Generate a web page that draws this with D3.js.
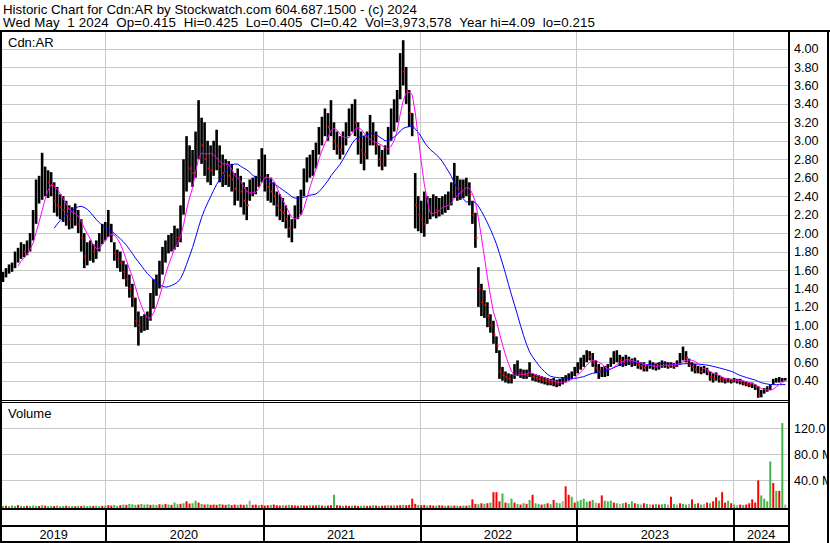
<!DOCTYPE html>
<html><head><meta charset="utf-8">
<script src="https://cdn.jsdelivr.net/npm/d3@7"></script>
<style>
html,body{margin:0;padding:0;background:#fff;}
svg{display:block;font-family:"Liberation Sans",Arial,sans-serif;}
text{white-space:pre;}
</style></head><body>
<svg id="c" width="830" height="543"></svg>
<script>
const titleLine1 = "Historic Chart for Cdn:AR by Stockwatch.com 604.687.1500 - (c) 2024";
const titleLine2 = "Wed May  1 2024  Op=0.415  Hi=0.425  Lo=0.405  Cl=0.42  Vol=3,973,578  Year hi=4.09  lo=0.215";
const symbolLabel = "Cdn:AR";
const volumeLabel = "Volume";
const firstWeek = new Date(2019, 4, 6);
const priceTicks = [0.4,0.6,0.8,1.0,1.2,1.4,1.6,1.8,2.0,2.2,2.4,2.6,2.8,3.0,3.2,3.4,3.6,3.8,4.0];
const volTicks = [40,80,120];
const years = [2019,2020,2021,2022,2023,2024];

const high = [
1.58,1.62,1.66,1.68,1.80,1.84,1.90,1.88,1.92,2.00,
2.25,2.58,2.62,2.87,2.72,2.68,2.66,2.55,2.50,2.42,
2.40,2.35,2.30,2.28,2.32,2.25,2.15,2.00,1.90,1.92,
1.88,1.92,2.00,2.10,2.12,2.25,2.10,1.90,1.82,1.80,
1.70,1.66,1.55,1.45,1.30,1.15,1.10,1.12,1.15,1.35,
1.50,1.55,1.70,1.85,1.92,1.98,2.00,2.08,2.05,2.30,
2.80,3.05,2.95,2.90,3.10,3.44,3.25,3.20,3.00,2.95,
3.00,3.12,2.95,2.85,2.80,2.78,2.75,2.65,2.70,2.62,
2.55,2.50,2.58,2.60,2.62,2.80,2.92,2.85,2.64,2.60,
2.55,2.45,2.42,2.38,2.30,2.20,2.15,2.30,2.40,2.47,
2.70,2.82,2.85,2.90,2.98,3.15,3.26,3.35,3.30,3.44,
3.20,3.10,3.05,3.10,3.20,3.35,3.40,3.45,3.20,3.10,
3.05,3.10,3.28,3.20,3.10,2.95,2.90,2.95,3.15,3.35,
3.45,3.55,3.95,4.09,3.80,3.55,3.30,2.65,2.40,2.35,
2.45,2.40,2.38,2.42,2.40,2.38,2.40,2.42,2.45,2.55,
2.76,2.62,2.58,2.58,2.60,2.55,2.35,2.22,1.63,1.45,
1.38,1.25,1.12,1.05,0.88,0.73,0.55,0.50,0.48,0.47,
0.58,0.62,0.53,0.52,0.52,0.60,0.48,0.47,0.46,0.45,
0.44,0.43,0.42,0.43,0.41,0.42,0.44,0.46,0.48,0.50,
0.55,0.60,0.65,0.68,0.73,0.72,0.70,0.62,0.58,0.55,
0.56,0.58,0.65,0.72,0.73,0.68,0.66,0.68,0.66,0.64,
0.65,0.62,0.60,0.60,0.58,0.62,0.60,0.58,0.60,0.62,
0.61,0.60,0.60,0.59,0.62,0.70,0.77,0.72,0.64,0.60,
0.58,0.56,0.55,0.56,0.54,0.50,0.48,0.49,0.46,0.44,
0.43,0.43,0.42,0.43,0.42,0.42,0.40,0.39,0.38,0.38,
0.36,0.34,0.30,0.32,0.34,0.36,0.42,0.43,0.44,0.43,0.43];

const low = [
1.47,1.52,1.56,1.58,1.62,1.68,1.72,1.74,1.76,1.80,
1.92,2.10,2.32,2.36,2.40,2.38,2.40,2.22,2.18,2.15,
2.12,2.08,2.04,2.05,2.08,2.00,1.80,1.62,1.65,1.70,
1.68,1.72,1.80,1.88,1.92,1.96,1.90,1.70,1.62,1.58,
1.50,1.42,1.30,1.20,0.98,0.78,0.92,0.94,0.95,1.05,
1.18,1.32,1.40,1.55,1.68,1.78,1.80,1.82,1.85,1.90,
2.20,2.45,2.55,2.50,2.60,2.80,2.75,2.62,2.55,2.52,
2.62,2.68,2.55,2.50,2.52,2.50,2.45,2.30,2.35,2.28,
2.20,2.14,2.35,2.40,2.42,2.50,2.55,2.45,2.35,2.33,
2.30,2.18,2.14,2.12,2.05,1.95,1.90,2.05,2.15,2.20,
2.40,2.55,2.60,2.62,2.70,2.85,2.95,3.05,3.00,3.05,
2.90,2.85,2.80,2.85,2.95,3.05,3.10,3.05,2.85,2.75,
2.68,2.80,2.95,2.95,2.85,2.72,2.68,2.72,2.85,3.00,
3.10,3.20,3.45,3.60,3.40,3.15,3.05,2.05,2.02,2.00,
1.96,2.10,2.15,2.18,2.16,2.18,2.20,2.22,2.25,2.30,
2.38,2.35,2.36,2.38,2.40,2.30,2.10,1.84,1.20,1.10,
1.08,0.98,0.92,0.80,0.70,0.42,0.40,0.38,0.37,0.37,
0.42,0.45,0.43,0.42,0.42,0.44,0.40,0.39,0.38,0.37,
0.36,0.35,0.35,0.34,0.33,0.34,0.36,0.38,0.40,0.42,
0.45,0.48,0.52,0.55,0.60,0.62,0.55,0.48,0.42,0.44,
0.44,0.45,0.55,0.58,0.60,0.56,0.55,0.56,0.57,0.55,
0.56,0.53,0.52,0.50,0.50,0.53,0.52,0.51,0.52,0.54,
0.54,0.53,0.54,0.53,0.55,0.58,0.62,0.60,0.55,0.50,
0.48,0.48,0.47,0.48,0.46,0.40,0.38,0.40,0.38,0.38,
0.37,0.38,0.37,0.38,0.37,0.36,0.35,0.34,0.33,0.32,
0.30,0.215,0.22,0.26,0.28,0.30,0.36,0.38,0.38,0.39,0.40];

const close = [
1.52,1.58,1.62,1.64,1.74,1.76,1.82,1.80,1.86,1.96,
2.15,2.45,2.50,2.55,2.58,2.55,2.52,2.35,2.30,2.28,
2.25,2.20,2.15,2.18,2.20,2.10,1.95,1.75,1.78,1.85,
1.80,1.86,1.95,2.02,2.05,2.08,1.98,1.78,1.72,1.68,
1.58,1.50,1.40,1.30,1.05,1.00,1.02,1.05,1.08,1.25,
1.40,1.45,1.62,1.75,1.82,1.88,1.92,1.98,1.95,2.20,
2.60,2.85,2.70,2.65,2.95,3.10,2.95,2.80,2.70,2.68,
2.85,2.90,2.72,2.65,2.70,2.62,2.58,2.48,2.55,2.45,
2.35,2.30,2.48,2.52,2.55,2.70,2.75,2.60,2.50,2.45,
2.40,2.30,2.25,2.22,2.15,2.05,2.05,2.20,2.30,2.40,
2.60,2.72,2.75,2.80,2.88,3.05,3.15,3.20,3.15,3.25,
3.00,2.95,2.90,3.00,3.10,3.25,3.30,3.20,3.00,2.90,
2.85,3.00,3.15,3.05,2.95,2.80,2.75,2.85,3.05,3.25,
3.30,3.45,3.80,3.75,3.55,3.30,3.15,2.30,2.20,2.15,
2.10,2.25,2.28,2.30,2.25,2.28,2.30,2.32,2.35,2.45,
2.55,2.48,2.45,2.50,2.52,2.42,2.20,1.95,1.40,1.25,
1.22,1.10,1.00,0.90,0.78,0.50,0.46,0.44,0.42,0.42,
0.50,0.52,0.48,0.47,0.46,0.50,0.44,0.43,0.42,0.41,
0.40,0.39,0.38,0.38,0.37,0.38,0.40,0.42,0.44,0.46,
0.50,0.55,0.60,0.62,0.68,0.66,0.60,0.54,0.50,0.50,
0.50,0.52,0.60,0.66,0.66,0.62,0.60,0.62,0.61,0.60,
0.60,0.57,0.56,0.54,0.55,0.58,0.56,0.55,0.57,0.58,
0.58,0.56,0.57,0.56,0.60,0.65,0.70,0.65,0.58,0.55,
0.52,0.52,0.50,0.51,0.50,0.44,0.42,0.45,0.42,0.41,
0.40,0.41,0.40,0.41,0.40,0.39,0.37,0.36,0.35,0.35,
0.33,0.25,0.26,0.29,0.31,0.34,0.40,0.40,0.41,0.42,0.42];

// volume in millions of shares (typical daily bar in each week)
const volume = [
0.8,1.2,0.5,1.5,0.8,2.0,1.0,0.6,1.2,0.8,
1.5,1.0,0.8,2.0,1.2,0.6,1.0,0.8,1.5,0.5,
0.8,1.2,0.6,1.0,0.5,1.2,0.8,1.5,0.6,1.0,
0.8,1.2,0.6,1.0,1.5,2.0,1.5,2.5,1.2,2.0,
3.0,2.5,4.0,3.5,2.5,3.0,4.0,2.8,3.5,2.5,
3.0,2.5,3.5,3.0,4.0,3.0,2.5,6.0,3.5,4.0,
5.0,8.0,4.5,5.0,9.0,6.0,4.0,3.0,3.5,2.5,
3.0,2.5,4.0,3.0,2.5,3.5,2.0,3.0,2.5,3.0,
2.5,3.0,9.0,2.5,3.0,2.0,2.5,1.5,2.0,2.5,
3.0,2.0,1.5,2.0,1.5,2.5,2.0,1.5,1.2,2.0,
1.5,1.2,2.0,1.5,1.8,2.5,1.5,1.2,1.5,2.0,
18,2.0,1.5,1.2,1.5,1.0,1.2,1.5,1.0,1.2,
1.5,1.0,1.2,2.0,1.5,1.0,1.2,1.5,2.0,1.5,
1.8,1.5,2.0,2.5,2.0,2.5,12,4.0,2.5,2.0,
2.5,1.5,2.0,1.5,1.2,2.0,1.5,1.0,1.5,1.2,
1.5,1.2,1.0,1.5,1.2,2.0,11,4.0,3.5,5.0,
4.0,5.0,6.0,22,22,8.0,20,6.0,5.0,12,
6.0,4.0,3.0,5.0,4.0,10,18,5.0,4.0,3.0,
4.0,5.0,3.5,10,6.0,5.0,8.0,31,18,15,
6.0,8.0,10,12,7.0,8.0,10,6.0,5.0,17,
9.0,8.0,9.0,6.0,5.0,4.0,5.0,6.0,4.0,8.0,
5.0,4.0,3.0,5.0,4.0,3.5,3.0,4.0,3.0,3.5,
4.0,3.0,15,4.0,3.0,5.0,4.0,3.0,4.0,11,
4.0,5.0,3.0,4.0,6.0,5.0,8.0,14,9.0,22,
6.0,9.0,5.0,3.0,2.0,3.0,2.5,3.0,5.0,11,
6.0,40,17,12,8.0,69,36,24,24,128,3.0];

// g = up, r = down, n = unchanged
const volDir = (
"grgggrggrg"+"ggrgrggrgg"+"grggrgrggg"+"rggrgrrggr"+"grgggrgggr"+
"ggrgrgrggr"+"grrggrgrgr"+"rrgrrgrrgr"+"rgnrrgrrrg"+"rrrgrgrrrg"+
"rrgrrgrgrr"+"grrgrrgrrg"+"grrgrgrrgr"+"grrgrrrrgr"+"rgrrgrrgrg"+
"rgrgrgrrgr"+"grgrrrgrgg"+"rgrgrgrggr"+"grgrggnrrg"+"rggggrgnrr"+
"gggrgngrgg"+"rgnrgnrgrg"+"gnrgnrggnr"+"grgnrgrrgr"+"rgrgnrgrrr"+
"rrggggrgrgn").split("");

const maShortWeeks = 6, maLongWeeks = 18;

const svg = d3.select("#c");
const W = 830, H = 543;

const weeks = high.map((_, i) => d3.timeWeek.offset(firstWeek, i));
const x = d3.scaleTime()
  .domain([new Date(2020,0,1), new Date(2024,0,1)])
  .range([105.3, 733.3]);
const bx = d => x(d3.timeDay.offset(d, 2));
const y = d3.scaleLinear().domain([0.4, 4.0]).range([380.7, 48.5]);
const yv = d3.scaleLinear().domain([0, 120]).range([506.5, 428.3]);

const PL = 2, PR = 788;

svg.append("rect").attr("width", W).attr("height", H).attr("fill", "#fff");

const defs = svg.append("defs");
defs.append("clipPath").attr("id","cp").append("rect").attr("x",PL).attr("y",31.5).attr("width",PR-PL).attr("height",368.5);
defs.append("clipPath").attr("id","cv").append("rect").attr("x",PL).attr("y",403).attr("width",PR-PL).attr("height",105);
defs.append("clipPath").attr("id","cr").append("rect").attr("x",790).attr("y",31).attr("width",37).attr("height",512);

const grid = svg.append("g").attr("stroke","#c8c8c8").attr("stroke-width",1).attr("shape-rendering","crispEdges");
grid.selectAll(".hp").data(priceTicks).join("line")
  .attr("x1",PL).attr("x2",PR).attr("y1",d=>Math.round(y(d))+0.5).attr("y2",d=>Math.round(y(d))+0.5);
grid.selectAll(".hv").data(volTicks).join("line")
  .attr("x1",PL).attr("x2",PR).attr("y1",d=>Math.round(yv(d))+0.5).attr("y2",d=>Math.round(yv(d))+0.5);
const yearStarts = years.slice(1).map(yr => new Date(yr,0,1));
grid.selectAll(".vv").data(yearStarts).join("line")
  .attr("x1",d=>Math.round(x(d))+0.5).attr("x2",d=>Math.round(x(d))+0.5)
  .attr("y1",31).attr("y2",508);

// price bars
const pg = svg.append("g").attr("clip-path","url(#cp)");
pg.append("g").selectAll("rect").data(weeks).join("rect")
  .attr("x",(d)=>bx(d)-1.3).attr("width",2.6)
  .attr("y",(d,i)=>y(high[i]))
  .attr("height",(d,i)=>Math.max(1, y(low[i])-y(high[i])))
  .attr("fill","#000");
pg.append("g").selectAll("rect").data(weeks.filter((d,i)=>i>0 && close[i]<close[i-1]))
  .join("rect")
  .attr("x",d=>bx(d)).attr("width",2).attr("height",2)
  .attr("y",d=>y(close[weeks.indexOf(d)])-1)
  .attr("fill","#ff0000");

function sma(n){
  const out = [];
  for (let i = n-1; i < close.length; i++) out.push({d: weeks[i], v: d3.mean(close.slice(i-n+1, i+1))});
  return out;
}
const line = d3.line().x(p=>bx(p.d)).y(p=>y(p.v));
pg.append("path").attr("d", line(sma(maLongWeeks))).attr("fill","none").attr("stroke","#0000ff").attr("stroke-width",1);
pg.append("path").attr("d", line(sma(maShortWeeks))).attr("fill","none").attr("stroke","#ff00ff").attr("stroke-width",1);

// volume
const volColors = {g:"#43b649", r:"#ff0000", n:"#a8a8a8"};
svg.append("g").attr("clip-path","url(#cv)").selectAll("rect").data(weeks).join("rect")
  .attr("x",d=>bx(d)-1).attr("width",2)
  .attr("y",(d,i)=>yv(volume[i]))
  .attr("height",(d,i)=>Math.max(1, 508 - yv(volume[i])))
  .attr("fill",(d,i)=>volColors[volDir[i]]);

// frame
const fr = svg.append("g").attr("stroke","#000").attr("shape-rendering","crispEdges");
fr.append("line").attr("x1",0).attr("x2",W).attr("y1",30.5).attr("y2",30.5).attr("stroke-width",2);
fr.append("line").attr("x1",1).attr("x2",1).attr("y1",30).attr("y2",H).attr("stroke-width",2);
fr.append("line").attr("x1",789).attr("x2",789).attr("y1",30).attr("y2",H).attr("stroke-width",2);
fr.append("line").attr("x1",828).attr("x2",828).attr("y1",30).attr("y2",H).attr("stroke-width",2);
fr.append("line").attr("x1",0).attr("x2",789).attr("y1",400.5).attr("y2",400.5).attr("stroke-width",1);
fr.append("line").attr("x1",0).attr("x2",789).attr("y1",402.5).attr("y2",402.5).attr("stroke-width",1);
fr.append("line").attr("x1",0).attr("x2",789).attr("y1",509).attr("y2",509).attr("stroke-width",2);
fr.append("line").attr("x1",0).attr("x2",789).attr("y1",526).attr("y2",526).attr("stroke-width",2);
fr.append("line").attr("x1",0).attr("x2",789).attr("y1",542).attr("y2",542).attr("stroke-width",2);
fr.selectAll(".ys").data(yearStarts).join("line")
  .attr("x1",d=>Math.round(x(d))+1).attr("x2",d=>Math.round(x(d))+1)
  .attr("y1",509).attr("y2",H).attr("stroke-width",2);

// texts
const T = svg.append("g").attr("fill","#000").style("font-size","13px");
function fitText(sel, target){
  const n = sel.text().length;
  const w = sel.node().getComputedTextLength();
  if (n > 1 && w < target) sel.style("letter-spacing", ((target - w) / (n - 1)) + "px");
}
const t1 = T.append("text").attr("x",3).attr("y",13.5).style("font-size","13.3px").text(titleLine1);
fitText(t1, 411);
const t2 = T.append("text").attr("x",3).attr("y",27).style("font-size","13.3px").text(titleLine2);
fitText(t2, 592);
T.append("text").attr("x",8).attr("y",47).text(symbolLabel);
T.append("text").attr("x",8).attr("y",418).text(volumeLabel);

T.selectAll(".yl").data(years).join("text")
  .attr("x", yr => (Math.max(PL, x(new Date(yr,0,1))) + Math.min(789, x(new Date(yr+1,0,1))))/2)
  .attr("y", 539).attr("text-anchor","middle").style("font-size","12.7px")
  .text(yr => String(yr));

// right axes
const ra = svg.append("g").attr("clip-path","url(#cr)");
const pAxis = d3.axisRight(y).tickValues(priceTicks).tickFormat(d3.format(".2f")).tickSize(0).tickPadding(0);
ra.append("g").attr("transform","translate(794,0)").call(pAxis)
  .call(g=>g.select(".domain").remove())
  .call(g=>g.selectAll("text").attr("fill","#000").style("font-size","12.6px").style("font-family","'Liberation Sans',Arial,sans-serif"));
const vAxis = d3.axisRight(yv).tickValues(volTicks).tickFormat(d=>d3.format(".1f")(d)+" M").tickSize(0).tickPadding(0);
ra.append("g").attr("transform","translate(794,0)").call(vAxis)
  .call(g=>g.select(".domain").remove())
  .call(g=>g.selectAll("text").attr("fill","#000").style("font-size","12.6px").style("font-family","'Liberation Sans',Arial,sans-serif"));
</script>
</body></html>
